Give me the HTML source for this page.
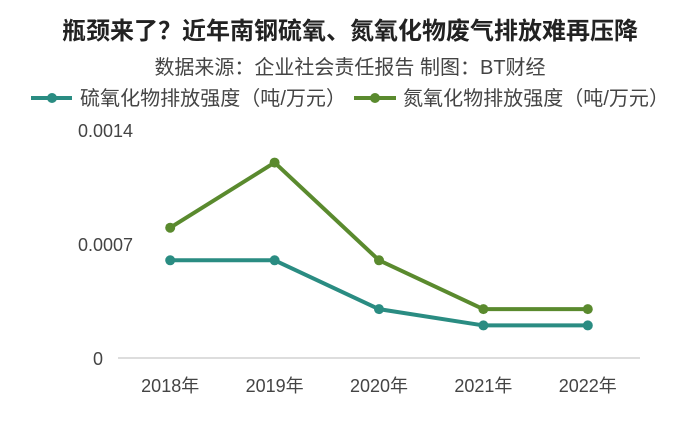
<!DOCTYPE html>
<html><head><meta charset="utf-8"><style>
body{margin:0;background:#fff;width:700px;height:416px;overflow:hidden;font-family:"Liberation Sans","Noto Sans CJK SC",sans-serif;}
</style></head><body>
<svg id="c" width="700" height="416" xmlns="http://www.w3.org/2000/svg">
<text x="350" y="39" text-anchor="middle" font-size="24" font-weight="bold" fill="#222">瓶颈来了？近年南钢硫氧、氮氧化物废气排放难再压降</text>
<text x="350" y="74" text-anchor="middle" font-size="20" fill="#444">数据来源：企业社会责任报告 制图：BT财经</text>
<g>
<line x1="31" y1="98" x2="72" y2="98" stroke="#2a8c82" stroke-width="4"/>
<circle cx="52" cy="98" r="5" fill="#2a8c82"/>
<text x="80" y="105" font-size="20" textLength="266" lengthAdjust="spacingAndGlyphs" fill="#444">硫氧化物排放强度（吨/万元）</text>
<line x1="354" y1="98" x2="396" y2="98" stroke="#5a8a2e" stroke-width="4"/>
<circle cx="375" cy="98" r="5" fill="#5a8a2e"/>
<text x="403" y="105" font-size="20" textLength="266" lengthAdjust="spacingAndGlyphs" fill="#444">氮氧化物排放强度（吨/万元）</text>
</g>
<g id="plot"></g>
</svg>
<script>
const categories=["2018年","2019年","2020年","2021年","2022年"];
const so2Values=[0.0006,0.0006,0.0003,0.0002,0.0002];
const noxValues=[0.0008,0.0012,0.0006,0.0003,0.0003];
const yTicks=[0,0.0007,0.0014];
const yTickLabels=["0","0.0007","0.0014"];
const NS="http://www.w3.org/2000/svg";
const g=document.getElementById('plot');
const x0=118,x1=640,yb=358,yt=130,yMax=0.0014;
const step=(x1-x0)/categories.length;
function xs(i){return x0+step*(i+0.5);}
function ys(v){return yb-(v/yMax)*(yb-yt);}
function mk(t,a){const e=document.createElementNS(NS,t);for(const k in a)e.setAttribute(k,a[k]);g.appendChild(e);return e;}
const ax=mk('line',{x1:x0,y1:yb,x2:x1,y2:yb,stroke:'#bbb','stroke-width':1});


yTicks.forEach((v,i)=>{const t=mk('text',{x:78,y:ys(v)+7,'text-anchor':'start','font-size':18,fill:'#444'});t.textContent=yTickLabels[i];


if(i===0)t.setAttribute('x',93);});
categories.forEach((c,i)=>{const t=mk('text',{x:xs(i),y:392,'text-anchor':'middle','font-size':18,fill:'#444'});t.textContent=c;

});
function series(vals,color,name){
const p=mk('polyline',{points:vals.map((v,i)=>xs(i)+','+ys(v)).join(' '),fill:'none',stroke:color,'stroke-width':4,'stroke-linejoin':'round'});


vals.forEach((v,i)=>{const c=mk('circle',{cx:xs(i),cy:ys(v),r:5,fill:color});

});}
series(so2Values,'#2a8c82','so2');
series(noxValues,'#5a8a2e','nox');
</script>
</body></html>
